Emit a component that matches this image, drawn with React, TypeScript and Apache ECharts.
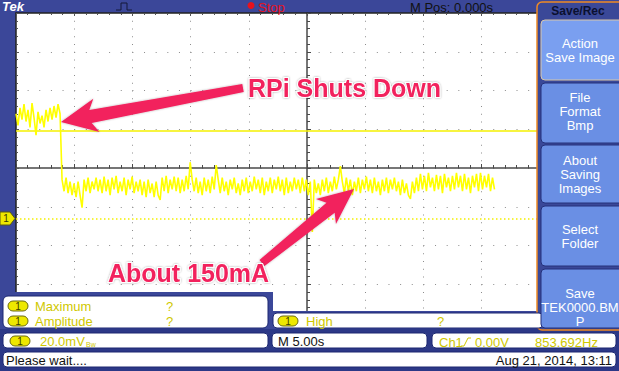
import React, { useEffect, useRef } from "react";
import * as echarts from "echarts";

// Time base: 5.00 s/div, 10 divisions, M Pos 0.000 s
const timeMin = -25;
const timeMax = 25;
const timeDiv = 5;
// Vertical: 20.0 mV/div, 8 divisions (screen-centred)
const voltMin = -80;
const voltMax = 80;
const voltDiv = 20;

// sampled trace (mV, screen-referenced), one sample every timeStep seconds
const timeStart = -25;
const timeStep = 0.172;
const beforeShutdown = [28, 22, 31, 25, 33, 24, 30, 21, 33.5, 26, 17, 29, 23, 27, 21, 30, 24, 31, 25, 32, 26, 33, 28];
const afterShutdown = [
  -6, -12, -5, -13, -7, -14, -8, -15, -7, -14,
  -20.5,
  -6, -12, -5, -13, -7, -11, -5, -12, -6,
  -13, -4.5, -12, -6, -14, -5, -11, -4, -13, -7,
  -12, -5, -14, -6, -11, -4.5, -13, -7, -12, -6,
  -14, -7, -15, -6, -13, -8, -15, -7, -14, -16.5,
  -5, -12, -4, -13, -6, -11, -4.5, -12, -5, -13, -6, -12, -4, -11,
  3,
  -6, -12, -5, -13, -7, -14, -5, -12, -6, -13, -4.5, -11,
  1.5,
  -6, -13, -5, -12, -7, -14, -6, -11, -5, -13, -8, -14, -6, -12, -5, -13, -7, -12, -4.5, -11,
  -6, -13, -5, -14, -7, -12, -5, -13, -6, -11, -4.5, -12, -6, -14, -5, -13, -7, -12, -5, -11, -6,
  -13, -5, -12, -6, -14, -7,
  -33,
  -6, -13, -8, -14, -6, -12, -5, -13, -7, -12, -4.5, -11, -6,
  1,
  -7, -13, -5, -12, -6, -14, -7, -12, -5, -13, -6, -11, -4.5, -12, -6, -13, -5, -12, -7, -14, -6, -12, -5, -13, -6, -11, -5, -12, -7, -14, -6, -13, -8, -14,
  -16,
  -7, -13, -5, -12,
  -3, -11, -4, -12, -2.5, -10, -5, -12, -3.5, -11, -4, -13, -3, -10, -5, -12, -4, -11, -2.5, -10, -4, -12, -3, -11, -5, -13, -4, -10, -3, -12, -2.5, -11, -4, -10, -3, -12, -5, -11,
];
const referenceLevel = 19.4; // mV
const groundLevel = -26.3; // mV

const menuTitle = "Save/Rec";
const menuItems = [
  ["Action", "Save Image"],
  ["File", "Format", "Bmp"],
  ["About", "Saving", "Images"],
  ["Select", "Folder"],
  ["Save", "TEK0000.BM", "P"],
];
const measurements = [
  { name: "Maximum", value: "?" },
  { name: "Amplitude", value: "?" },
  { name: "High", value: "?" },
];
const statusTexts = {
  scale: "20.0mV",
  time: "M 5.00s",
  trig: "Ch1",
  trigLevel: "0.00V",
  freq: "853.692Hz",
  msg: "Please wait....",
  date: "Aug 21, 2014, 13:11",
  mpos: "M Pos: 0.000s",
  run: "Stop",
};
const annotations = ["RPi Shuts Down", "About 150mA"];

const FONT = "'Liberation Sans', Arial, sans-serif";
const YEL_TXT = "#cfc800";
const PINK = "#f2215d";

function arrowPoints(tail: number[], tip: number[], wTail: number, wNeck: number, headLen: number, headW: number) {
  const dx = tip[0] - tail[0];
  const dy = tip[1] - tail[1];
  const L = Math.hypot(dx, dy);
  const ux = dx / L, uy = dy / L;
  const nx = -uy, ny = ux;
  const nk = [tip[0] - ux * headLen, tip[1] - uy * headLen];
  const back = headLen * 0.2;
  return [
    [tail[0] + (nx * wTail) / 2, tail[1] + (ny * wTail) / 2],
    [nk[0] + (nx * wNeck) / 2, nk[1] + (ny * wNeck) / 2],
    [nk[0] - ux * back + (nx * headW) / 2, nk[1] - uy * back + (ny * headW) / 2],
    tip,
    [nk[0] - ux * back - (nx * headW) / 2, nk[1] - uy * back - (ny * headW) / 2],
    [nk[0] - (nx * wNeck) / 2, nk[1] - (ny * wNeck) / 2],
    [tail[0] - (nx * wTail) / 2, tail[1] - (ny * wTail) / 2],
  ];
}

function pill(x: number, y: number) {
  return [
    { type: "rect", z: 101, shape: { x, y: y - 5, width: 20, height: 10, r: 5 }, style: { fill: "#eee800", stroke: "#6b6a10", lineWidth: 1 } },
    { type: "text", z: 102, x: x + 10, y, style: { text: "1", fill: "#3a3a00", font: `10px ${FONT}`, align: "center", verticalAlign: "middle" } },
  ];
}

function txt(x: number, y: number, text: string, fill: string, size = 13, align = "left", extra: any = {}) {
  return { type: "text", z: 102, x, y, style: { text, fill, font: `${size}px ${FONT}`, align, verticalAlign: "middle", ...extra } };
}

export default function App() {
  const ref = useRef<HTMLDivElement>(null);
  useEffect(() => {
    document.body.style.margin = "0";
    if (!ref.current) return;
    const chart = echarts.init(ref.current, undefined, { renderer: "svg" });
    const trace = [...beforeShutdown, ...afterShutdown].map((v, i) => [timeStart + i * timeStep, v]);

    const NAVY = "#3b4799";
    const DARK = "#2c3887";
    const g: any[] = [];
    // left strip & bottom panel
    g.push({ type: "rect", z: 100, shape: { x: 0, y: 292, width: 273, height: 40 }, style: { fill: NAVY } });
    g.push({ type: "rect", z: 100, shape: { x: 268, y: 311, width: 280, height: 21 }, style: { fill: NAVY } });
    g.push({ type: "rect", z: 100, shape: { x: 0, y: 329, width: 619, height: 42 }, style: { fill: DARK } });
    // measurement boxes
    g.push({ type: "rect", z: 101, shape: { x: 3, y: 296, width: 265, height: 32, r: 5 }, style: { fill: "#fff", stroke: "#1c2770", lineWidth: 1 } });
    g.push({ type: "rect", z: 101, shape: { x: 273, y: 313, width: 270, height: 15, r: 4 }, style: { fill: "#fff", stroke: "#1c2770", lineWidth: 1 } });
    g.push(...pill(8, 306), txt(35, 306, measurements[0].name, YEL_TXT), txt(166, 306, measurements[0].value, YEL_TXT));
    g.push(...pill(8, 321), txt(35, 321, measurements[1].name, YEL_TXT), txt(166, 321, measurements[1].value, YEL_TXT));
    g.push(...pill(278, 321), txt(306, 321, measurements[2].name, YEL_TXT), txt(437, 321, measurements[2].value, YEL_TXT));
    // status row
    g.push({ type: "rect", z: 101, shape: { x: 3, y: 333, width: 265, height: 15, r: 4 }, style: { fill: "#fff", stroke: "#1c2770" } });
    g.push({ type: "rect", z: 101, shape: { x: 272, y: 333, width: 155, height: 15, r: 4 }, style: { fill: "#fff", stroke: "#1c2770" } });
    g.push({ type: "rect", z: 101, shape: { x: 432, y: 333, width: 184, height: 15, r: 4 }, style: { fill: "#fff", stroke: "#1c2770" } });
    g.push(...pill(10, 341), txt(40, 341, statusTexts.scale, YEL_TXT), txt(86, 344, "Bw", YEL_TXT, 7));
    g.push(txt(278, 341, statusTexts.time, "#111"));
    g.push(txt(439, 342, statusTexts.trig, YEL_TXT));
    g.push({ type: "polyline", z: 102, shape: { points: [[461, 346], [464, 346], [468, 338], [471, 338]] }, style: { stroke: YEL_TXT, lineWidth: 1, fill: "none" } });
    g.push(txt(475, 342, statusTexts.trigLevel, YEL_TXT), txt(535, 342, statusTexts.freq, YEL_TXT));
    g.push({ type: "rect", z: 101, shape: { x: 3, y: 352, width: 613, height: 15, r: 4 }, style: { fill: "#fff", stroke: "#1c2770" } });
    g.push(txt(6, 360, statusTexts.msg, "#111"), txt(612, 360, statusTexts.date, "#111", 13, "right"));
    // top bar
    g.push(txt(2, 6, "Tek", "#fff", 13, "left", { font: `italic bold 13px ${FONT}` }));
    g.push({ type: "polyline", z: 102, shape: { points: [[116, 10], [121, 10], [121, 3], [127, 3], [127, 10], [132, 10]] }, style: { stroke: "#151838", lineWidth: 1, fill: "none" } });
    g.push({ type: "circle", z: 102, shape: { cx: 251, cy: 5.5, r: 3.5 }, style: { fill: "#e8121c" } });
    g.push(txt(258, 7, statusTexts.run, "#e8121c"));
    g.push(txt(410, 7, statusTexts.mpos, "#111"));
    // channel marker
    g.push({ type: "polygon", z: 101, shape: { points: [[0, 212], [10, 212], [15, 218.5], [10, 225], [0, 225]] }, style: { fill: "#eee800", stroke: "#5a5a10", lineWidth: 1 } });
    g.push(txt(6, 218.5, "1", "#3a3a00", 10, "center"));
    // right menu
    g.push({ type: "rect", z: 100, shape: { x: 537, y: 2, width: 90, height: 328, r: 5 }, style: { fill: "#3a4898", stroke: "#f08a24", lineWidth: 1.5 } });
    g.push(txt(578, 11, menuTitle, "#0b1030", 12, "center", { font: `bold 12px ${FONT}` }));
    const btns = [
      { y: 20, h: 60, ty: 50 },
      { y: 83, h: 60, ty: 111.5 },
      { y: 145, h: 58, ty: 174.5 },
      { y: 206, h: 60, ty: 236.5 },
      { y: 269, h: 59, ty: 307.5 },
    ];
    btns.forEach((b, i) => {
      g.push({ type: "rect", z: 101, shape: { x: 541, y: b.y, width: 82, height: b.h, r: 4 }, style: { fill: i === 0 ? "#7a9ff0" : "#6a8fe4", stroke: i === 0 ? "#d9c7a8" : "#24307a", lineWidth: 1 } });
      g.push({ type: "text", z: 102, x: 580, y: b.ty, style: { text: menuItems[i].join("\n"), fill: "#fff", font: `13px ${FONT}`, align: "center", verticalAlign: "middle", lineHeight: 14 } });
    });
    // annotations
    g.push({ type: "polygon", z: 103, shape: { points: arrowPoints([243, 88], [61, 122], 8, 13, 30, 34) }, style: { fill: PINK, shadowBlur: 2, shadowColor: "rgba(0,0,0,0.3)" } });
    g.push({ type: "polygon", z: 103, shape: { points: arrowPoints([262, 263], [354, 189], 8, 13, 30, 32) }, style: { fill: PINK, shadowBlur: 2, shadowColor: "rgba(0,0,0,0.3)" } });
    g.push({ type: "text", z: 104, x: 248, y: 88, style: { text: annotations[0], fill: PINK, stroke: "#fff", lineWidth: 2, font: `bold 25px ${FONT}`, align: "left", verticalAlign: "middle", textShadowBlur: 2, textShadowColor: "rgba(0,0,0,0.35)" } });
    g.push({ type: "text", z: 104, x: 108, y: 273, style: { text: annotations[1], fill: PINK, stroke: "#fff", lineWidth: 2, font: `bold 25px ${FONT}`, align: "left", verticalAlign: "middle", textShadowBlur: 2, textShadowColor: "rgba(0,0,0,0.35)" } });

    const axCol = "#4a4a4a";
    const xCommon = { type: "value", min: timeMin, max: timeMax, interval: timeDiv, axisLabel: { show: false } };
    const yCommon = { type: "value", min: voltMin, max: voltMax, interval: voltDiv, axisLabel: { show: false } };

    chart.setOption({
      animation: false,
      backgroundColor: NAVY,
      grid: { left: 16, top: 13, width: 582, height: 310, show: true, backgroundColor: "#ffffff", borderWidth: 0 },
      xAxis: [
        {
          ...xCommon, position: "bottom",
          axisLine: { show: true, onZero: true, lineStyle: { color: axCol, width: 1.5 } },
          axisTick: { show: true, inside: true, length: 4, lineStyle: { color: axCol } },
          minorTick: { show: true, splitNumber: 5, length: 3, lineStyle: { color: axCol } },
          splitLine: { show: true, lineStyle: { color: "#8c8c8c", width: 1, type: [1, 6.75] } },
        },
        {
          ...xCommon, position: "top",
          axisLine: { show: true, onZero: false, lineStyle: { color: "#222", width: 1.5 } },
          axisTick: { show: true, inside: true, length: 3, lineStyle: { color: "#555" } },
          minorTick: { show: true, splitNumber: 5, length: 2, lineStyle: { color: "#555" } },
          splitLine: { show: false },
        },
      ],
      yAxis: [
        {
          ...yCommon, position: "left",
          axisLine: { show: true, onZero: true, lineStyle: { color: axCol, width: 1.5 } },
          axisTick: { show: true, inside: true, length: 4, lineStyle: { color: axCol } },
          minorTick: { show: true, splitNumber: 5, length: 3, lineStyle: { color: axCol } },
          splitLine: { show: true, lineStyle: { color: "#8c8c8c", width: 1, type: [1, 10.64] } },
        },
        {
          ...yCommon, position: "left",
          axisLine: { show: true, onZero: false, lineStyle: { color: "#222", width: 1.5 } },
          axisTick: { show: true, inside: true, length: 3, lineStyle: { color: "#555" } },
          minorTick: { show: true, splitNumber: 5, length: 2, lineStyle: { color: "#555" } },
          splitLine: { show: false },
        },
      ],
      series: [
        {
          type: "line",
          xAxisIndex: 0,
          yAxisIndex: 0,
          data: trace,
          symbol: "none",
          showSymbol: false,
          z: 5,
          lineStyle: { color: "#ffff00", width: 1.6 },
          markLine: {
            silent: true,
            symbol: "none",
            label: { show: false },
            data: [
              { yAxis: referenceLevel, lineStyle: { color: "#f4f000", width: 1.5, type: "solid" } },
              { yAxis: groundLevel, lineStyle: { color: "#f4f000", width: 1.5, type: [1.5, 2.5] } },
            ],
          },
        },
      ],
      graphic: { elements: g },
    });
    return () => chart.dispose();
  }, []);
  return <div ref={ref} style={{ width: 619, height: 371 }} />;
}
